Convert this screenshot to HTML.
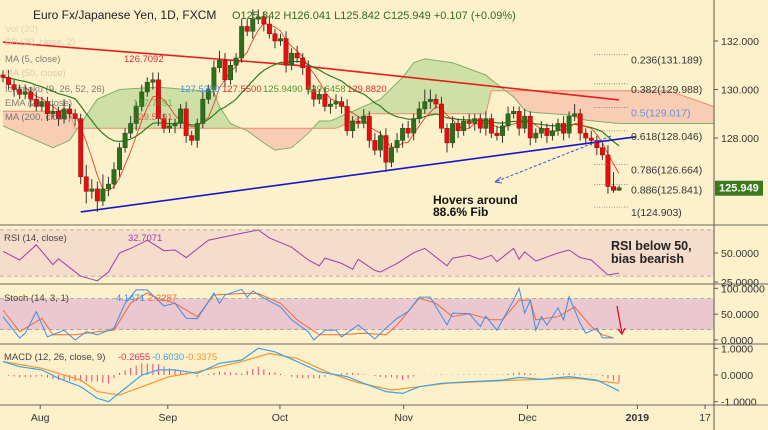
<!DOCTYPE html>
<html><head><meta charset="utf-8">
<style>
html,body{margin:0;padding:0;background:#fdf1cb;}
svg{display:block;font-family:"Liberation Sans",sans-serif;}
</style></head>
<body>
<svg id="chart" width="768" height="430" viewBox="0 0 768 430" xmlns="http://www.w3.org/2000/svg">
<rect x="0" y="0" width="768" height="430" fill="#fdf1cb"/>
<defs><clipPath id="mainClip"><rect x="0" y="0" width="714" height="225"/></clipPath></defs>
<g id="cloud" clip-path="url(#mainClip)"></g>
<g id="main" clip-path="url(#mainClip)"></g>
<g id="panes"></g>
<g id="axes"></g>
<g id="legend"></g>
</svg>
<script>
// ---------- data ----------
const closes = [130.5,130.2,130.0,129.8,129.9,129.6,129.3,129.5,129.0,129.1,
128.8,129.2,129.0,128.8,126.4,125.8,125.9,125.4,125.9,126.1,
126.7,127.6,128.2,128.6,129.3,129.9,130.3,130.4,128.8,128.4,
128.5,128.6,129.2,128.1,127.9,128.6,129.6,130.0,130.9,131.2,
130.4,131.0,131.3,132.6,132.4,132.9,133.0,132.7,132.3,132.0,
132.1,131.0,131.5,131.3,130.9,130.0,129.6,129.8,129.3,129.4,
129.5,129.3,128.3,128.7,128.6,128.9,127.9,127.5,128.1,127.0,
127.6,127.9,128.4,128.2,128.8,129.2,129.5,129.6,129.4,128.4,
127.8,128.6,128.3,128.7,128.6,128.8,128.4,128.8,128.2,128.1,
128.5,129.0,129.1,128.4,128.9,128.0,128.2,128.4,128.1,128.3,
128.6,128.2,128.9,129.0,128.2,128.0,127.9,127.6,127.3,126.0,
125.842,125.949];
const wickHi = [0.2,0.3,0.2,0.2,0.3,0.2,0.3,0.2,0.2,0.3,0.2,0.4,0.2,0.2,0.2,0.5,0.4,0.3,0.6,0.3,
0.3,0.2,0.2,0.3,0.2,0.3,0.2,0.3,0.3,0.2,0.3,0.2,0.2,0.3,0.2,0.2,0.3,0.2,0.3,0.4,
0.3,0.2,0.2,0.3,0.3,0.4,0.3,0.2,0.3,0.2,0.2,0.3,0.2,0.3,0.2,0.3,0.2,0.2,0.3,0.2,
0.3,0.2,0.3,0.2,0.2,0.3,0.2,0.3,0.2,0.3,0.2,0.3,0.2,0.3,0.2,0.3,0.5,0.4,0.2,0.3,
0.2,0.3,0.2,0.2,0.3,0.2,0.2,0.3,0.2,0.3,0.2,0.3,0.2,0.2,0.3,0.2,0.2,0.3,0.2,0.3,
0.2,0.3,0.2,0.4,0.2,0.2,0.3,0.2,0.2,0.4,0.6,0.09];
const wickLo = [0.2,0.2,0.3,0.2,0.2,0.3,0.2,0.2,0.3,0.2,0.3,0.2,0.2,0.3,0.3,0.5,0.3,0.45,0.2,0.3,
0.2,0.3,0.2,0.2,0.3,0.2,0.2,0.3,0.3,0.2,0.2,0.3,0.2,0.3,0.2,0.3,0.2,0.2,0.3,0.2,
0.3,0.2,0.3,0.2,0.2,0.3,0.2,0.3,0.2,0.3,0.2,0.3,0.2,0.2,0.3,0.2,0.3,0.2,0.2,0.3,
0.2,0.3,0.2,0.3,0.2,0.2,0.3,0.2,0.3,0.4,0.2,0.2,0.3,0.2,0.3,0.2,0.2,0.3,0.2,0.2,
0.4,0.2,0.3,0.2,0.2,0.3,0.2,0.3,0.2,0.2,0.3,0.2,0.2,0.3,0.2,0.3,0.2,0.2,0.3,0.2,
0.2,0.3,0.2,0.2,0.3,0.2,0.2,0.3,0.2,0.3,0.1,0.02];
const ma200Bars = [0,53,111];
const ma200Vals = [131.95,131.0,129.57];
const spanABars = [0,9,12,17,21,28,38,39,41,44,47,49,52,55,57,59,68,72,74,76,81,87,88,92,94,95,102,105,111,128];
const spanAVals = [128.5,127.6,127.9,129.6,130.0,130.1,129.9,129.3,128.6,128.3,127.8,127.5,127.6,128.2,128.7,128.7,129.6,130.5,131.1,131.26,131.1,130.6,130.4,129.7,129.15,129.07,128.95,128.74,128.6,128.6];
const spanBBars = [0,12,13,60,66,87,88,120,128];
const spanBVals = [129.1,129.1,128.4,128.4,129.0,129.0,129.95,129.95,129.3];
const fibLevels = [0.236,0.382,0.5,0.618,0.786,0.886,1];
const fibPrices = [131.189,129.988,129.017,128.046,126.664,125.841,124.903];
const trendBars = [14,114];
const trendVals = [124.95,128.05];
const rsiBars = [0,3,6,9,10,14,17,19,21,23,26,29,31,33,37,43,46,48,52,55,57,58,61,63,64,67,68,71,74,76,80,81,84,86,88,89,92,93,94,96,100,102,104,106,109,111];
const rsiVals = [51.5,44,57,40,45,30,26,33.6,50,54,61,52,52.6,46,61,67,69.8,63,55,44,39,45.6,41,36,44.6,35,33.6,41,50.3,54,39,45.6,48,44.6,48,42.5,54,44.6,51,43,50,52.6,46,44,31,32.7];
const kBars = [0,3,4,6,8,11,13,15,17,20,22,24,26,29,31,33,35,38,39,40,43,44,45,47,50,52,55,56,58,60,61,64,67,69,71,73,75,77,80,81,84,86,87,89,92,93,94,95,96,97,98,100,101,102,104,105,107,108,110];
const kVals = [45,4,13,55,6,19,0,16,10,23,71,97,97,66,71,42,41,91,71,87,98,83,95,81,64,39,16,0,19,19,6,29,2,23,42,55,83,83,29,52,51,26,46,19,77,100,52,77,19,45,29,62,39,84,32,13,23,4,4];
const dBars = [0,3,7,9,13,17,20,23,26,28,31,35,38,43,46,50,53,57,61,65,69,71,75,78,81,84,88,90,93,95,96,100,103,106,108,110];
const dVals = [58,16,42,10,10,16,19,71,91,80,71,45,87,90,90,71,39,10,10,13,10,29,81,71,45,51,39,39,77,77,39,45,64,26,10,4];
const macdBars = [0,3,7,10,14,17,19,22,25,28,31,35,39,43,46,49,53,57,62,65,69,72,75,79,84,90,93,97,102,107,111];
const macdVals = [0.5,0.31,0.19,-0.12,-0.44,-0.87,-1.0,-0.5,0,0.19,0.19,0.06,0.44,0.56,1.0,0.87,0.5,0.12,-0.06,-0.31,-0.62,-0.69,-0.44,-0.31,-0.25,-0.19,-0.09,-0.16,-0.06,-0.19,-0.59];
const sigBars = [0,7,14,17,21,25,30,35,43,48,53,59,64,70,75,80,90,97,103,111];
const sigVals = [0.5,0.25,-0.19,-0.62,-0.75,-0.44,-0.06,0.12,0.5,0.81,0.62,0.06,-0.29,-0.56,-0.44,-0.31,-0.21,-0.16,-0.12,-0.31];
const monthLabels = ["Aug","Sep","Oct","Nov","Dec","2019","17"];
const monthBars = [6.7,29.7,49.9,72.2,94.5,114.3,126.5];
const priceTicks = [132,130,128];
const rsiTicks = [50,25];
const stochTicks = [100,50,0];
const macdTicks = [1,0,-1];

// ---------- scales ----------
const NS="http://www.w3.org/2000/svg";
const xB = i => 3 + i*5.55;
const yP = p => 138 - (p-128)*24.25;
const yR = v => 253 - (v-50)*1.16;
const yS = v => 340 - v*0.517;
const yM = v => 375 - v*26.7;
function mk(tag, attrs, parent){const e=document.createElementNS(NS,tag);for(const k in attrs)e.setAttribute(k,attrs[k]);parent.appendChild(e);return e;}
function interp(bars, vals, i){
  if(i<=bars[0])return vals[0];
  for(let k=1;k<bars.length;k++){ if(i<=bars[k]){const t=(i-bars[k-1])/(bars[k]-bars[k-1]);return vals[k-1]+t*(vals[k]-vals[k-1]);} }
  return vals[vals.length-1];
}
function linePath(bars, vals, ys){return bars.map((b,k)=>(k?'L':'M')+xB(b).toFixed(1)+' '+ys(vals[k]).toFixed(1)).join(' ');}
const svg=document.getElementById('chart');
const gMain=document.getElementById('main'), gCloud=document.getElementById('cloud'), gP=document.getElementById('panes'), gA=document.getElementById('axes'), gL=document.getElementById('legend');

// ---------- cloud ----------
for(let i=0;i<128;i++){
  const a0=interp(spanABars,spanAVals,i),a1=interp(spanABars,spanAVals,i+1);
  const b0=interp(spanBBars,spanBVals,i),b1=interp(spanBBars,spanBVals,i+1);
  const green=(a0+a1)>=(b0+b1);
  const q=mk('polygon',{points:`${xB(i)},${yP(a0)} ${xB(i+1)},${yP(a1)} ${xB(i+1)},${yP(b1)} ${xB(i)},${yP(b0)}`,fill:green?'#cfe0a6':'#f9cdb4','stroke':green?'#cfe0a6':'#f9cdb4','stroke-width':0.5},gCloud);
  
  
}
const sa=mk('path',{d:linePath(spanABars,spanAVals,yP),fill:'none',stroke:'#7fb069','stroke-width':1},gCloud);


const sb=mk('path',{d:linePath(spanBBars,spanBVals,yP),fill:'none',stroke:'#f08a70','stroke-width':1},gCloud);



// ---------- MA200 ----------
const m2=mk('path',{d:linePath(ma200Bars,ma200Vals,yP),fill:'none',stroke:'#e41e1e','stroke-width':1.6},gMain);



// ---------- EMA21 & MA5 ----------
let ema=closes[0],emaPts=[],ma5Pts=[];
const kE=2/22;
closes.forEach((c,i)=>{ema=i?c*kE+ema*(1-kE):c;emaPts.push((i?'L':'M')+xB(i).toFixed(1)+' '+yP(ema).toFixed(1));
  if(i>=4){let s=0;for(let j=i-4;j<=i;j++)s+=closes[j];ma5Pts.push((ma5Pts.length?'L':'M')+xB(i).toFixed(1)+' '+yP(s/5).toFixed(1));}});
const e21=mk('path',{d:emaPts.join(' '),fill:'none',stroke:'#2e7d1a','stroke-width':1.2},gMain);


const m5=mk('path',{d:ma5Pts.join(' '),fill:'none',stroke:'#f03c2c','stroke-width':0.9},gMain);



// ---------- candles ----------
closes.forEach((c,i)=>{
  const o=i?closes[i-1]:c+0.1; const up=c>=o;
  const hi=Math.max(o,c)+wickHi[i], lo=Math.min(o,c)-wickLo[i];
  const col=up?'#2f6f1b':'#e01010';
  const w=mk('line',{x1:xB(i),x2:xB(i),y1:yP(hi),y2:yP(lo),stroke:'#333','stroke-width':1},gMain);
  
  
  const top=yP(Math.max(o,c)), h=Math.max(1,yP(Math.min(o,c))-top);
  const b=mk('rect',{x:xB(i)-2.2,y:top,width:4.4,height:h,fill:col,stroke:up?'#1f4f10':'#a00',"stroke-width":0.5},gMain);
  
  
});

// ---------- trendline & arrow ----------
const tl=mk('line',{x1:xB(trendBars[0]),y1:yP(trendVals[0]),x2:xB(trendBars[1]),y2:yP(trendVals[1]),stroke:'#1515d0','stroke-width':1.6},gMain);


const da=mk('line',{x1:611,y1:136,x2:495,y2:182,stroke:'#3a4ee0','stroke-width':1,'stroke-dasharray':'3,2'},gMain);


const dh=mk('path',{d:'M495 182 L501 177 M495 182 L502 183',stroke:'#3a4ee0','stroke-width':1,fill:'none'},gMain);



// ---------- fib ----------
fibLevels.forEach((f,k)=>{
  const y=yP(fibPrices[k])-6;
  const l=mk('line',{x1:594,x2:628,y1:y,y2:y,stroke:'#777','stroke-width':0.8,'stroke-dasharray':'1,1.5'},svg);
  
  
  const t=mk('text',{x:631,y:y+9,'font-size':10.5,fill:f===0.5?'#6b8fe0':'#333'},svg);
  t.textContent=f+'('+fibPrices[k].toFixed(3)+')';
  
  
});

// ---------- panes ----------
mk('rect',{x:0,y:226,width:714,height:57,fill:'#fdf1cb'},gP);
const rb=mk('rect',{x:0,y:yR(70),width:714,height:yR(30)-yR(70),fill:'#f6dccb'},gP);


[70,30].forEach(v=>mk('line',{x1:0,x2:714,y1:yR(v),y2:yR(v),stroke:'#aaa','stroke-dasharray':'4,3','stroke-width':0.8},gP));
const sbd=mk('rect',{x:0,y:yS(80),width:714,height:yS(20)-yS(80),fill:'#ebc8cf'},gP);


[80,20].forEach(v=>mk('line',{x1:0,x2:714,y1:yS(v),y2:yS(v),stroke:'#999','stroke-dasharray':'4,3','stroke-width':0.8},gP));
[225,284,344,405].forEach(y=>mk('line',{x1:0,x2:768,y1:y,y2:y,stroke:'#666','stroke-width':1},gA));
const rl=mk('path',{d:linePath(rsiBars,rsiVals,yR),fill:'none',stroke:'#9c3fb0','stroke-width':1},gP);


const dl=mk('path',{d:linePath(dBars,dVals,yS),fill:'none',stroke:'#f26b3a','stroke-width':1},gP);


const kl=mk('path',{d:linePath(kBars,kVals,yS),fill:'none',stroke:'#3b8ee8','stroke-width':1},gP);


for(let i=0;i<=111;i++){
  const h=interp(macdBars,macdVals,i)-interp(sigBars,sigVals,i);
  const hb=mk('line',{x1:xB(i),x2:xB(i),y1:yM(0),y2:yM(h),stroke:'#f0437a','stroke-width':1},gP);
  
  
}
const sl=mk('path',{d:linePath(sigBars,sigVals,yM),fill:'none',stroke:'#f7942d','stroke-width':1.2},gP);


const ml=mk('path',{d:linePath(macdBars,macdVals,yM),fill:'none',stroke:'#3ba4e8','stroke-width':1.2},gP);


const ra=mk('path',{d:'M617 306 L622 334 M618 329 L622 334 L625 328',stroke:'#e0102a','stroke-width':1.3,fill:'none'},gP);



// ---------- axes ----------
mk('line',{x1:714,x2:714,y1:0,y2:430,stroke:'#555','stroke-width':1},gA);
function tick(y,txt,name){mk('line',{x1:714,x2:718,y1:y,y2:y,stroke:'#555'},gA);const t=mk('text',{x:721,y:y+4,'font-size':10.5,fill:'#333'},gA);t.textContent=txt;}
priceTicks.forEach(p=>tick(yP(p),p.toFixed(3),'price-tick'));
rsiTicks.forEach(v=>tick(yR(v),v.toFixed(4),'rsi-tick'));
stochTicks.forEach(v=>tick(yS(v),v.toFixed(4),'stoch-tick'));
macdTicks.forEach(v=>tick(yM(v),v.toFixed(4),'macd-tick'));
const pb=mk('rect',{x:715,y:yP(closes[closes.length-1])-7,width:48,height:15,fill:'#3a7a1c'},gA);


const pt=mk('text',{x:719,y:yP(closes[closes.length-1])+4,'font-size':11,'font-weight':'bold',fill:'#fff'},gA);
pt.textContent=closes[closes.length-1].toFixed(3);


monthLabels.forEach((m,k)=>{
  const x=xB(monthBars[k]);
  mk('line',{x1:x,x2:x,y1:405,y2:409,stroke:'#555'},gA);
  const t=mk('text',{x:x,y:421,'font-size':10.5,fill:'#333','text-anchor':'middle','font-weight':m==='2019'?'bold':'normal'},gA);
  t.textContent=m;
  
  
});
</script>
<script>
// ---------- legends & annotations ----------
(function(){
const NS="http://www.w3.org/2000/svg";const g=document.getElementById('legend');
function T(x,y,txt,opt,name){const t=document.createElementNS(NS,'text');t.setAttribute('x',x);t.setAttribute('y',y);
 for(const k in opt)t.setAttribute(k,opt[k]);t.textContent=txt;
 
 
 g.appendChild(t);}
T(33,19,'Euro Fx/Japanese Yen, 1D, FXCM',{'font-size':12,fill:'#222'},'chart-title');
T(232,19,'O125.842  H126.041  L125.842  C125.949  +0.107 (+0.09%)',{'font-size':11,fill:'#2f6b1f'},'ohlc-values');
const rows=[[32,'Vol (20)','#d9c9a8'],[45,'BB (20, close, 2)','#d9b8a0'],[62,'MA (5, close)','#555'],[76,'MA (50, close)','#d9b8a0'],[92,'Ichimoku (9, 26, 52, 26)','#555'],[106,'EMA (21, close)','#555'],[120,'MA (200, close)','#555']];
rows.forEach(r=>T(5,r[0],r[1],{'font-size':9.5,fill:r[2],opacity:0.75},'indicator-legend'));
T(124,62,'126.7092',{'font-size':9.5,fill:'#e03030'},'ma5-value');
T(180,92,'127.5300',{'font-size':9.5,fill:'#3b8ee8'},'ichimoku-value');
T(222,92,'127.5500',{'font-size':9.5,fill:'#c0392b'},'ichimoku-value');
T(263,92,'125.9490',{'font-size':9.5,fill:'#4a9a2a'},'ichimoku-value');
T(306,92,'129.6458',{'font-size':9.5,fill:'#4a9a2a'},'ichimoku-value');
T(347,92,'129.8820',{'font-size':9.5,fill:'#e03030'},'ichimoku-value');
T(133,106,'127.7891',{'font-size':9.5,fill:'#4a9a2a',opacity:0.7},'ema21-value');
T(133,120,'129.5491',{'font-size':9.5,fill:'#e03030',opacity:0.7},'ma200-value');
T(4,241,'RSI (14, close)',{'font-size':9.5,fill:'#444'},'rsi-legend');
T(128,241,'32.7071',{'font-size':9.5,fill:'#9c3fb0'},'rsi-value');
T(4,301,'Stoch (14, 3, 1)',{'font-size':9.5,fill:'#444'},'stoch-legend');
T(116,301,'4.1471',{'font-size':9.5,fill:'#3b8ee8'},'stoch-k-value');
T(148,301,'2.2287',{'font-size':9.5,fill:'#f26b3a'},'stoch-d-value');
T(4,360,'MACD (12, 26, close, 9)',{'font-size':9.5,fill:'#444'},'macd-legend');
T(118,360,'-0.2655',{'font-size':9.5,fill:'#e0305a'},'macd-hist-value');
T(152,360,'-0.6030',{'font-size':9.5,fill:'#3ba4e8'},'macd-value');
T(185,360,'-0.3375',{'font-size':9.5,fill:'#f7942d'},'macd-signal-value');
T(433,204,'Hovers around',{'font-size':12,'font-weight':'bold',fill:'#111'},'annotation-fib');
T(433,216,'88.6% Fib',{'font-size':12,'font-weight':'bold',fill:'#111'},'annotation-fib');
T(611,250,'RSI below 50,',{'font-size':12.5,'font-weight':'bold',fill:'#222'},'annotation-rsi');
T(611,263,'bias bearish',{'font-size':12.5,'font-weight':'bold',fill:'#222'},'annotation-rsi');
})();
</script>
</body></html>
